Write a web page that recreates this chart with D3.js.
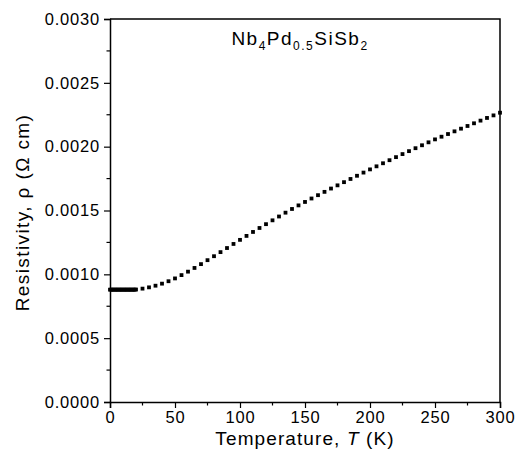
<!DOCTYPE html>
<html>
<head>
<meta charset="utf-8">
<script src="https://cdn.jsdelivr.net/npm/d3@7"></script>
<style>
	body { margin: 0; background: #fff; }
	svg text { font-family: Arial, "Liberation Sans", sans-serif; fill: #000; }
</style>
</head>
<body>
<div id="chart"></div>
<script>
// low temperature readings, densely spaced (K)
var lowT = [0, 1, 2, 3, 4, 5, 6, 7, 8, 9, 10, 11, 12, 13, 14, 15, 16, 17, 18, 19];
var lowRho = [0.000880, 0.000880, 0.000880, 0.000880, 0.000880, 0.000880, 0.000880, 0.000880, 0.000880, 0.000880,
	0.000880, 0.000880, 0.000880, 0.000880, 0.000880, 0.000880, 0.000880, 0.000880, 0.000880, 0.000880];
// regular readings (K)
var temps = [20, 25, 30, 35, 40, 45, 50, 55, 60, 65, 70, 75, 80, 85, 90, 95,
	100, 105, 110, 115, 120, 125, 130, 135, 140, 145, 150, 155, 160, 165, 170, 175,
	180, 185, 190, 195, 200, 205, 210, 215, 220, 225, 230, 235, 240, 245, 250, 255,
	260, 265, 270, 275, 280, 285, 290, 295, 300];
var rho = [0.000881, 0.000888, 0.000898, 0.000911, 0.000927, 0.000946, 0.000968, 0.000994, 0.001021, 0.001050, 0.001080, 0.001111, 0.001142, 0.001174, 0.001206, 0.001238,
	0.001270, 0.001301, 0.001332, 0.001363, 0.001393, 0.001423, 0.001453, 0.001483, 0.001512, 0.001540, 0.001567, 0.001594, 0.001620, 0.001646, 0.001672, 0.001697,
	0.001722, 0.001747, 0.001772, 0.001797, 0.001822, 0.001846, 0.001870, 0.001894, 0.001918, 0.001942, 0.001965, 0.001988, 0.002011, 0.002034, 0.002057, 0.002078,
	0.002099, 0.002120, 0.002141, 0.002162, 0.002183, 0.002204, 0.002225, 0.002245, 0.002266];
var xTicks = [0, 50, 100, 150, 200, 250, 300];
var xMinor = [25, 75, 125, 175, 225, 275];
var yTicks = [0, 0.0005, 0.0010, 0.0015, 0.0020, 0.0025, 0.0030];
var yMinor = [0.00025, 0.00075, 0.00125, 0.00175, 0.00225, 0.00275];

var width = 515, height = 450;
var margin = { left: 110, right: 15, top: 19, bottom: 48 };

var svg = d3.select('#chart').append('svg')
	.attr('width', width)
	.attr('height', height);

var x = d3.scaleLinear().domain([0, 300]).range([margin.left, width - margin.right]);
var y = d3.scaleLinear().domain([0, 0.003]).range([height - margin.bottom, margin.top]);

// frame (top and right, no ticks)
svg.append('path')
	.attr('d', 'M' + x(0) + ',' + y(0.003) + 'H' + x(300) + 'V' + y(0))
	.attr('fill', 'none')
	.attr('stroke', '#000')
	.attr('stroke-width', 1.5);

var xAxis = svg.append('g')
	.attr('transform', 'translate(0,' + y(0) + ')')
	.call(d3.axisBottom(x).tickValues(xTicks).tickFormat(d3.format('d')).tickSize(6).tickPadding(3));
xAxis.append('g').selectAll('line').data(xMinor).enter().append('line')
	.attr('x1', function(d) { return x(d); })
	.attr('x2', function(d) { return x(d); })
	.attr('y1', 0).attr('y2', 3.5)
	.attr('stroke', '#000').attr('stroke-width', 1.2);

var yAxis = svg.append('g')
	.attr('transform', 'translate(' + x(0) + ',0)')
	.call(d3.axisLeft(y).tickValues(yTicks).tickFormat(d3.format('.4f')).tickSize(6).tickPadding(4));
yAxis.append('g').selectAll('line').data(yMinor).enter().append('line')
	.attr('y1', function(d) { return y(d); })
	.attr('y2', function(d) { return y(d); })
	.attr('x1', 0).attr('x2', -3.5)
	.attr('stroke', '#000').attr('stroke-width', 1.2);

svg.selectAll('.domain').attr('stroke-width', 1.5);
svg.selectAll('.tick line').attr('stroke-width', 1.2);
svg.selectAll('.tick text')
	.attr('font-size', 16.5)
	.attr('font-family', 'Arial, "Liberation Sans", sans-serif')
	.attr('letter-spacing', 0.8);

// data points
var pts = lowT.map(function(t, i) { return [t, lowRho[i]]; })
	.concat(temps.map(function(t, i) { return [t, rho[i]]; }));
var s = 3.8;
svg.append('g').selectAll('rect').data(pts).enter().append('rect')
	.attr('x', function(d) { return x(d[0]) - s / 2; })
	.attr('y', function(d) { return y(d[1]) - s / 2; })
	.attr('width', s)
	.attr('height', s)
	.attr('fill', '#000');

// compound label
var title = svg.append('text')
	.attr('x', 300)
	.attr('y', 45)
	.attr('text-anchor', 'middle')
	.attr('letter-spacing', 1.5)
	.attr('font-size', 19);
title.append('tspan').text('Nb');
title.append('tspan').attr('font-size', 12).attr('dy', 5).text('4');
title.append('tspan').attr('dy', -5).text('Pd');
title.append('tspan').attr('font-size', 12).attr('dy', 5).text('0.5');
title.append('tspan').attr('dy', -5).text('SiSb');
title.append('tspan').attr('font-size', 12).attr('dy', 5).text('2');

// axis titles
var xl = svg.append('text')
	.attr('x', 305)
	.attr('y', 445)
	.attr('text-anchor', 'middle')
	.attr('letter-spacing', 1.1)
	.attr('font-size', 19);
xl.append('tspan').text('Temperature, ');
xl.append('tspan').attr('font-style', 'italic').text('T');
xl.append('tspan').text(' (K)');

svg.append('text')
	.attr('transform', 'translate(29,' + (y(0.0015) + 2) + ') rotate(-90)')
	.attr('text-anchor', 'middle')
	.attr('letter-spacing', 1.4)
	.attr('font-size', 19)
	.text('Resistivity, ρ (Ω cm)');
</script>
</body>
</html>
